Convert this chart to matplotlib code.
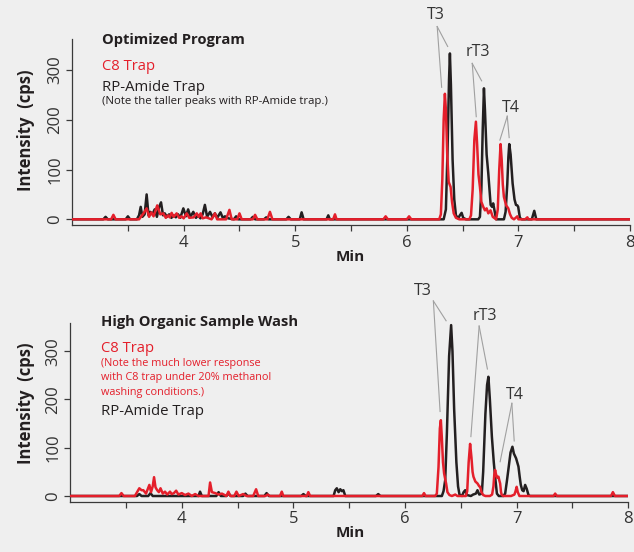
import matplotlib.pyplot as plt
from matplotlib.ticker import FixedLocator, NullFormatter

# retention time (min) / intensity (cps)
# top panel: optimized program
opt_rp_t = [3.0, 3.28, 3.30, 3.32, 3.48, 3.50, 3.52, 3.58, 3.60, 3.615, 3.63, 3.65, 3.668, 3.685,
            3.70, 3.72, 3.74, 3.76, 3.78, 3.797, 3.815, 3.83, 3.85, 3.87, 3.89, 3.91, 3.93, 3.95,
            3.97, 3.997, 4.02, 4.04, 4.06, 4.086, 4.11, 4.13, 4.15, 4.17, 4.19, 4.21, 4.236, 4.26,
            4.28, 4.30, 4.33, 4.35, 4.37, 4.40, 4.45, 4.47, 4.49, 4.60, 4.62, 4.64, 4.72, 4.74,
            4.76, 4.92, 4.94, 4.96, 5.04, 5.057, 5.075, 5.28, 5.296, 5.31, 6.33, 6.35, 6.365,
            6.378, 6.386, 6.395, 6.41, 6.425, 6.44, 6.46, 6.475, 6.491, 6.505, 6.53, 6.64, 6.655,
            6.668, 6.68, 6.691, 6.70, 6.715, 6.73, 6.751, 6.764, 6.774, 6.80, 6.87, 6.885, 6.90,
            6.91, 6.918, 6.93, 6.948, 6.965, 6.978, 6.99, 6.998, 7.013, 7.03, 7.12, 7.142, 7.16,
            8.0]
opt_rp_y = [0, 0, 5, 0, 0, 6, 0, 0, 8, 25, 5, 10, 50, 8,
            15, 10, 20, 5, 25, 34, 8, 12, 5, 10, 3, 8, 4, 10,
            3, 22, 6, 20, 5, 15, 3, 8, 2, 10, 29, 5, 15, 4,
            12, 3, 14, 3, 6, 2, 0, 6, 0, 0, 5, 0, 0, 4,
            0, 0, 5, 0, 0, 14, 0, 0, 8, 0, 0, 20, 140,
            280, 333, 270, 120, 40, 8, 2, 8, 13, 3, 0, 0, 5,
            60, 180, 263, 220, 130, 92, 29, 25, 32, 0, 0, 15, 70,
            125, 151, 130, 72, 40, 29, 28, 25, 3, 0, 0, 17, 0,
            0]

opt_c8_t = [3.0, 3.35, 3.37, 3.39, 3.60, 3.64, 3.668, 3.69, 3.71, 3.73, 3.763, 3.79, 3.817, 3.84,
            3.86, 3.875, 3.892, 3.91, 3.937, 3.96, 3.98, 4.00, 4.027, 4.05, 4.09, 4.117, 4.135,
            4.152, 4.17, 4.20, 4.25, 4.28, 4.30, 4.38, 4.41, 4.43, 4.48, 4.50, 4.52, 4.62, 4.64,
            4.66, 4.75, 4.773, 4.795, 5.34, 5.356, 5.37, 5.79, 5.81, 5.83, 6.0, 6.02, 6.04, 6.29,
            6.305, 6.318, 6.33, 6.341, 6.35, 6.362, 6.375, 6.392, 6.405, 6.42, 6.44, 6.47, 6.56,
            6.575, 6.59, 6.605, 6.619, 6.63, 6.642, 6.655, 6.668, 6.685, 6.70, 6.715, 6.73, 6.75,
            6.77, 6.80, 6.815, 6.828, 6.84, 6.85, 6.86, 6.87, 6.89, 6.909, 6.925, 6.94, 6.96,
            6.99, 7.0, 7.06, 7.08, 7.09, 8.0]
opt_c8_y = [0, 0, 9, 0, 0, 12, 22, 5, 14, 6, 28, 10, 12, 3,
            8, 4, 13, 5, 12, 3, 6, 2, 12, 3, 4, 12, 5,
            12, 2, 4, 0, 12, 0, 0, 19, 0, 0, 12, 0, 0, 9,
            0, 0, 15, 0, 0, 10, 0, 0, 6, 0, 0, 6, 0, 0,
            10, 80, 200, 252, 220, 130, 75, 65, 35, 12, 3, 0, 0,
            8, 60, 160, 196, 150, 90, 65, 35, 25, 18, 22, 12, 18,
            5, 0, 20, 100, 151, 120, 70, 45, 28, 22, 10, 3, 0,
            6, 0, 0, 4, 0, 0]

# bottom panel: high organic sample wash
wash_rp_t = [3.0, 3.60, 3.62, 3.64, 3.70, 3.72, 3.74, 4.15, 4.164, 4.18, 4.31, 4.33, 4.35, 4.40,
             4.42, 4.44, 4.55, 4.57, 4.59, 4.74, 4.76, 4.78, 5.07, 5.09, 5.11, 5.36, 5.375, 5.389,
             5.405, 5.42, 5.435, 5.448, 5.465, 5.74, 5.76, 5.78, 6.33, 6.345, 6.36, 6.375, 6.395,
             6.413, 6.425, 6.44, 6.46, 6.475, 6.488, 6.51, 6.525, 6.539, 6.555, 6.59, 6.61, 6.635,
             6.649, 6.665, 6.688, 6.70, 6.72, 6.735, 6.747, 6.76, 6.778, 6.795, 6.807, 6.823, 6.84,
             6.88, 6.897, 6.912, 6.927, 6.945, 6.962, 6.975, 6.995, 7.016, 7.027, 7.037, 7.05,
             7.062, 7.076, 7.09, 7.106, 7.12, 8.0]
wash_rp_y = [0, 0, 4, 0, 0, 6, 0, 0, 9, 0, 0, 8, 0, 0,
             5, 0, 0, 5, 0, 0, 6, 0, 0, 4, 0, 0, 12, 16,
             8, 14, 10, 12, 0, 0, 4, 0, 0, 10, 33, 130, 290,
             354, 300, 180, 70, 20, 3, 0, 8, 12, 2, 0, 3, 5,
             12, 3, 5, 50, 170, 230, 247, 200, 123, 70, 40, 5, 0,
             0, 5, 30, 57, 90, 102, 88, 78, 61, 40, 23, 12,
             10, 23, 15, 2, 0, 0]

wash_c8_t = [3.0, 3.44, 3.46, 3.48, 3.58, 3.60, 3.62, 3.64, 3.656, 3.68, 3.71, 3.725, 3.74, 3.752,
             3.765, 3.78, 3.795, 3.81, 3.83, 3.85, 3.87, 3.895, 3.91, 3.93, 3.95, 3.97, 4.00, 4.03,
             4.06, 4.09, 4.12, 4.15, 4.24, 4.254, 4.27, 4.30, 4.33, 4.36, 4.40, 4.418, 4.435, 4.47,
             4.49, 4.51, 4.55, 4.58, 4.64, 4.666, 4.685, 4.75, 4.77, 4.79, 4.88, 4.896, 4.91, 5.12,
             5.134, 5.15, 6.155, 6.17, 6.185, 6.27, 6.285, 6.30, 6.312, 6.321, 6.33, 6.34, 6.35,
             6.36, 6.368, 6.38, 6.398, 6.42, 6.45, 6.47, 6.545, 6.557, 6.57, 6.583, 6.595, 6.605,
             6.613, 6.63, 6.649, 6.665, 6.673, 6.685, 6.70, 6.72, 6.76, 6.78, 6.792, 6.80, 6.807,
             6.815, 6.825, 6.837, 6.845, 6.852, 6.86, 6.867, 6.88, 6.95, 6.98, 6.99, 7.0, 7.01,
             7.025, 7.33, 7.345, 7.36, 7.845, 7.862, 7.88, 8.0]
wash_c8_y = [0, 0, 6, 0, 0, 8, 16, 12, 12, 5, 23, 8, 20, 39,
             18, 12, 8, 16, 5, 9, 3, 9, 4, 6, 11, 3, 6, 2,
             5, 0, 4, 0, 0, 28, 8, 6, 3, 5, 0, 9, 0, 0,
             9, 0, 4, 0, 0, 14, 0, 0, 3, 0, 0, 9, 0, 0,
             8, 0, 0, 6, 0, 0, 5, 60, 140, 157, 120, 70, 47,
             35, 26, 8, 2, 0, 3, 0, 0, 10, 70, 108, 80, 50,
             40, 30, 26, 20, 19, 8, 2, 0, 0, 3, 20, 45, 54,
             45, 38, 40, 32, 26, 8, 2, 0, 0, 3, 10, 19, 8,
             0, 0, 5, 0, 0, 8, 0, 0]

RED = "#e41f2b"
BLACK = "#231f20"
GREY = "#a0a0a0"
BG = "#efefef"
W, H = 634, 552

plt.rcParams["font.family"] = ["Open Sans", "DejaVu Sans"]


def fpos(x, y):
    return x / W, 1 - y / H


def style_axis(ax, ylim):
    ax.set_facecolor(BG)
    ax.set_xlim(3, 8)
    ax.set_ylim(*ylim)
    for side in ["top", "right"]:
        ax.spines[side].set_visible(False)
    for side in ["left", "bottom"]:
        ax.spines[side].set_color("#3a3a3a")
        ax.spines[side].set_linewidth(0.9)
    ax.xaxis.set_major_locator(FixedLocator([4, 5, 6, 7, 8]))
    ax.xaxis.set_minor_locator(FixedLocator([3.5, 4.5, 5.5, 6.5, 7.5]))
    ax.xaxis.set_minor_formatter(NullFormatter())
    ax.set_yticks([0, 100, 200, 300])
    ax.tick_params(axis="both", which="both", direction="out", length=4, width=0.9,
                   color="#3a3a3a", labelcolor="#333333", labelsize=12)
    ax.tick_params(axis="x", pad=3)
    ax.tick_params(axis="y", pad=2.5)
    for lbl in ax.get_yticklabels():
        lbl.set_rotation(90)
        lbl.set_va("center")


def peak_label(ax, text, label_xy, hub_xy, targets):
    ax.text(*label_xy, text, ha="center", va="center", fontsize=11.5, color="#333333")
    for tx, ty in targets:
        ax.plot([hub_xy[0], tx], [hub_xy[1], ty], color=GREY, lw=0.8, clip_on=False, zorder=4)


fig = plt.figure(figsize=(W / 100, H / 100), dpi=100, facecolor=BG)
ax1 = fig.add_axes([72.1 / W, 1 - 225 / H, (630 - 72.1) / W, (225 - 39) / H])
ax2 = fig.add_axes([70.1 / W, 1 - 501.7 / H, (628.3 - 70.1) / W, (501.7 - 322.7) / H])

ax1.plot(opt_rp_t, opt_rp_y, color=BLACK, lw=1.8, zorder=2)
ax1.plot(opt_c8_t, opt_c8_y, color=RED, lw=1.8, zorder=3)
style_axis(ax1, (-11.4, 362))

ax2.plot(wash_rp_t, wash_rp_y, color=BLACK, lw=1.8, zorder=2)
ax2.plot(wash_c8_t, wash_c8_y, color=RED, lw=1.8, zorder=3)
style_axis(ax2, (-11.8, 359))

peak_label(ax1, "T3", (6.258, 410), (6.272, 387), [(6.312, 265), (6.366, 347)])
peak_label(ax1, "rT3", (6.634, 335), (6.586, 313), [(6.622, 206), (6.670, 278)])
peak_label(ax1, "T4", (6.933, 224), (6.90, 207), [(6.834, 159), (6.917, 164)])

peak_label(ax2, "T3", (6.159, 424), (6.254, 404), [(6.314, 175), (6.368, 363)])
peak_label(ax2, "rT3", (6.718, 373), (6.664, 352), [(6.590, 123), (6.738, 263)])
peak_label(ax2, "T4", (6.987, 209), (6.957, 192), [(6.852, 71), (6.978, 114)])

# panel captions
fig.text(*fpos(101.5, 44.3), "Optimized Program", fontsize=10.6, fontweight="bold",
         color=BLACK, va="baseline")
fig.text(*fpos(101.5, 70), "C8 Trap", fontsize=10.6, color=RED, va="baseline")
fig.text(*fpos(101.5, 90.7), "RP-Amide Trap", fontsize=10.7, color=BLACK, va="baseline")
fig.text(*fpos(101.5, 104), "(Note the taller peaks with RP-Amide trap.)", fontsize=8.2,
         color=BLACK, va="baseline")

fig.text(*fpos(100.5, 326), "High Organic Sample Wash", fontsize=10.6, fontweight="bold",
         color=BLACK, va="baseline")
fig.text(*fpos(100.5, 352), "C8 Trap", fontsize=10.6, color=RED, va="baseline")
fig.text(*fpos(100.5, 366), "(Note the much lower response", fontsize=7.8, color=RED,
         va="baseline")
fig.text(*fpos(100.5, 380.3), "with C8 trap under 20% methanol", fontsize=7.8, color=RED,
         va="baseline")
fig.text(*fpos(100.5, 395), "washing conditions.)", fontsize=7.8, color=RED, va="baseline")
fig.text(*fpos(100.5, 415.3), "RP-Amide Trap", fontsize=10.7, color=BLACK, va="baseline")

for ylab_y, min_y in [(130.5, 257), (403.5, 532.7)]:
    fig.text(*fpos(26.5, ylab_y), "Intensity  (cps)", fontsize=12, fontweight="bold",
             color=BLACK, rotation=90, ha="center", va="center")
    fig.text(*fpos(350, min_y), "Min", fontsize=11, fontweight="bold", color=BLACK,
             ha="center", va="center")

fig.savefig("out.png", dpi=100, facecolor=BG)
